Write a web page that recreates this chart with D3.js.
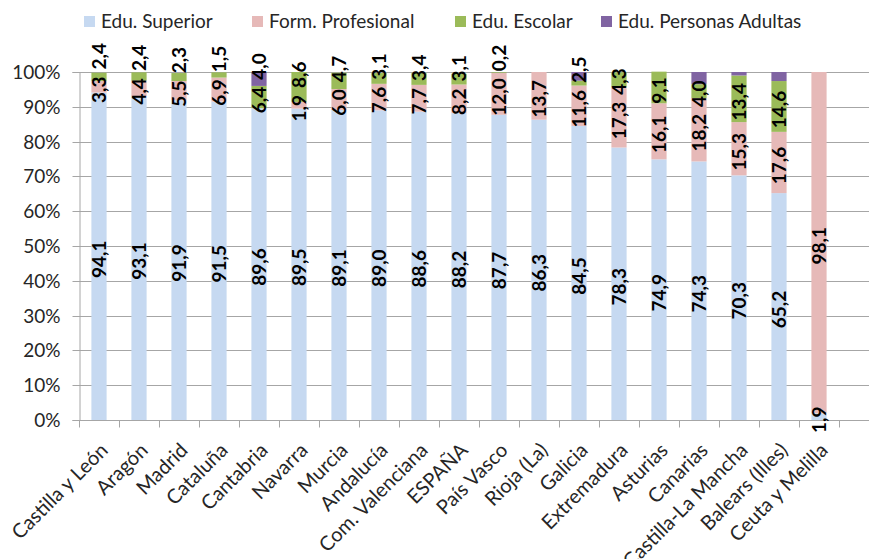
<!DOCTYPE html>
<html>
<head>
<meta charset="utf-8">
<script src="https://cdn.jsdelivr.net/npm/d3@7"></script>
<style>
  body { margin: 0; background: #fff; }
  svg { font-family: Lato, "Open Sans", sans-serif; }
</style>
</head>
<body>
<div id="chart"></div>
<script>
// data (percent of students by education type)
const regions = ["Castilla y León", "Aragón", "Madrid", "Cataluña", "Cantabria", "Navarra", "Murcia",
    "Andalucía", "Com. Valenciana", "ESPAÑA", "País Vasco", "Rioja (La)", "Galicia", "Extremadura",
    "Asturias", "Canarias", "Castilla-La Mancha", "Balears (Illes)", "Ceuta y Melilla"];
const superior = [94.1, 93.1, 91.9, 91.5, 89.6, 89.5, 89.1, 89.0, 88.6, 88.2, 87.7, 86.3, 84.5, 78.3, 74.9, 74.3, 70.3, 65.2, 1.9];
const profesional = [3.3, 4.4, 5.5, 6.9, 0, 1.9, 6.0, 7.6, 7.7, 8.2, 12.0, 13.7, 11.6, 17.3, 16.1, 18.2, 15.3, 17.6, 98.1];
const escolar = [2.4, 2.4, 2.3, 1.5, 6.4, 8.6, 4.7, 3.1, 3.4, 3.1, 0.2, 0, 1.4, 4.3, 9.1, 4.0, 13.4, 14.6, 0];
const adultas = [0, 0, 0, 0, 4.0, 0, 0, 0, 0, 0, 0, 0, 2.5, 0, 0, 3.5, 1.0, 2.6, 0];
const seriesNames = ["Edu. Superior", "Form. Profesional", "Edu. Escolar", "Edu. Personas Adultas"];
const seriesColors = ["#c6d9f1", "#e6b9b8", "#9bbb59", "#8064a2"];
const yTicks = [0, 10, 20, 30, 40, 50, 60, 70, 80, 90, 100];
// labels that are not shown in the original
const hiddenLabels = [["Galicia", 2], ["Canarias", 3], ["Castilla-La Mancha", 3], ["Balears (Illes)", 3]];

const width = 869, height = 559;
const margin = { top: 72, right: 30, bottom: 139, left: 79 };
const gridRight = width;

const table = regions.map((r, i) => ({
    name: r, s0: superior[i], s1: profesional[i], s2: escolar[i], s3: adultas[i]
}));
const keys = ["s0", "s1", "s2", "s3"];
const stacked = d3.stack().keys(keys)(table);

const x = d3.scaleBand()
    .domain(regions)
    .range([margin.left, width - margin.right])
    .paddingInner(0.62)
    .paddingOuter(0.31);
const y = d3.scaleLinear()
    .domain([0, 100])
    .range([height - margin.bottom, margin.top]);

const fmt = v => d3.format(".1f")(v).replace(".", ",");

const svg = d3.select("#chart").append("svg")
    .attr("width", width)
    .attr("height", height);

// grid
svg.append("g")
    .selectAll("line")
    .data(yTicks)
    .join("line")
    .attr("x1", margin.left)
    .attr("x2", gridRight)
    .attr("y1", d => Math.round(y(d)) + 0.5)
    .attr("y2", d => Math.round(y(d)) + 0.5)
    .attr("stroke", "#a6a6a6");

// y axis
const yAxis = svg.append("g")
    .attr("transform", `translate(${margin.left + 0.5},0)`)
    .call(d3.axisLeft(y).tickValues(yTicks).tickFormat(d => d + "%").tickSize(7).tickPadding(12));
yAxis.selectAll("path, line").attr("stroke", "#a6a6a6");
yAxis.selectAll(".tick").attr("transform", d => `translate(0,${Math.round(y(d)) + 0.5})`);
yAxis.selectAll("text")
    .attr("font-family", "Lato")
    .attr("font-size", 19)
    .attr("fill", "#262626");

// bars
svg.append("g")
    .selectAll("g")
    .data(stacked)
    .join("g")
    .attr("fill", (d, i) => seriesColors[i])
    .selectAll("rect")
    .data(d => d)
    .join("rect")
    .attr("x", d => x(d.data.name))
    .attr("y", d => y(d[1]))
    .attr("width", x.bandwidth())
    .attr("height", d => y(d[0]) - y(d[1]));

// x axis with ticks at category boundaries
const step = x.step();
const bounds = regions.map(r => x(r) + x.bandwidth() / 2 - step / 2);
bounds.push(bounds[bounds.length - 1] + step);
const baseY = Math.round(y(0)) + 0.5;
const xAxis = svg.append("g");
xAxis.append("line")
    .attr("x1", margin.left).attr("x2", gridRight)
    .attr("y1", baseY).attr("y2", baseY)
    .attr("stroke", "#a6a6a6");
xAxis.selectAll("line.tick")
    .data(bounds)
    .join("line")
    .attr("class", "tick")
    .attr("x1", d => Math.round(d) + 0.5).attr("x2", d => Math.round(d) + 0.5)
    .attr("y1", baseY).attr("y2", baseY + 7)
    .attr("stroke", "#a6a6a6");
xAxis.selectAll("text")
    .data(regions)
    .join("text")
    .attr("transform", d => `translate(${x(d) + x.bandwidth() / 2},${baseY + 21}) rotate(-45)`)
    .attr("text-anchor", "end")
    .attr("dy", "0.71em")
    .attr("font-size", 20)
    .attr("fill", "#262626")
    .text(d => d);

// data labels, centred in the segment and pushed up when they collide
const labelG = svg.append("g");
const gap = 7;
regions.forEach((r, ci) => {
    let prev = null;
    stacked.forEach((s, si) => {
        const d = s[ci];
        const v = d[1] - d[0];
        if (v <= 0) return;
        if (hiddenLabels.some(h => h[0] === r && h[1] === si)) return;
        const t = labelG.append("text")
            .attr("text-anchor", "middle")
            .attr("dy", "0.35em")
            .attr("font-size", 19)
            .attr("font-weight", "bold")
            .attr("fill", "#000")
            .text(fmt(v));
        const len = t.node().getComputedTextLength();
        let cy = (y(d[0]) + y(d[1])) / 2 + 3;
        if (prev) {
            const maxCy = prev.cy - prev.len / 2 - gap - len / 2;
            cy = Math.min(cy, maxCy);
        }
        t.attr("transform", `translate(${x(r) + x.bandwidth() / 2},${cy}) rotate(-90)`);
        prev = { cy, len };
    });
});

// legend
const legendX = [84, 252, 455, 601];
const legend = svg.append("g")
    .selectAll("g")
    .data(seriesNames)
    .join("g")
    .attr("transform", (d, i) => `translate(${legendX[i]},0)`);
legend.append("rect")
    .attr("y", 16)
    .attr("width", 11)
    .attr("height", 11)
    .attr("fill", (d, i) => seriesColors[i]);
legend.append("text")
    .attr("x", 17)
    .attr("y", 27.5)
    .attr("font-size", 19)
    .attr("fill", "#262626")
    .text(d => d);
</script>
</body>
</html>
